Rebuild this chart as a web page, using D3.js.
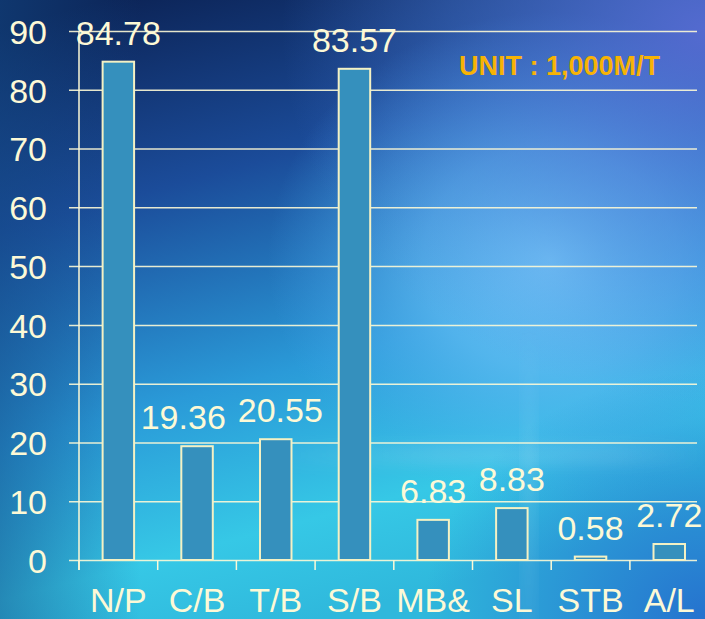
<!DOCTYPE html>
<html>
<head>
<meta charset="utf-8">
<script src="https://cdn.jsdelivr.net/npm/d3@7"></script>
<style>
  html, body { margin: 0; padding: 0; background: #0d2a5c; }
  svg { display: block; }
  text { font-family: "Liberation Sans", Arial, sans-serif; }
</style>
</head>
<body>
<div id="chart"></div>
<script>
var categories = ['N/P', 'C/B', 'T/B', 'S/B', 'MB&', 'SL', 'STB', 'A/L'];
var values = [84.78, 19.36, 20.55, 83.57, 6.83, 8.83, 0.58, 2.72];
var yTicks = [0, 10, 20, 30, 40, 50, 60, 70, 80, 90];
var unitLabel = 'UNIT : 1,000M/T';

var _width = 705, _height = 619;
var _left = 79, _right = 697, _top = 31, _bottom = 560;
var cream = '#fdf9d6';

var svg = d3.select('#chart').append('svg')
    .attr('width', _width)
    .attr('height', _height);

var defs = svg.append('defs');

function linear(id, x1, y1, x2, y2, stops) {
  var g = defs.append('linearGradient').attr('id', id)
      .attr('x1', x1).attr('y1', y1).attr('x2', x2).attr('y2', y2);
  stops.forEach(function(s) {
    g.append('stop').attr('offset', s[0]).attr('stop-color', s[1])
      .attr('stop-opacity', s[2] == null ? 1 : s[2]);
  });
}

function radial(id, cx, cy, r, stops) {
  var g = defs.append('radialGradient').attr('id', id)
      .attr('cx', cx).attr('cy', cy).attr('r', r);
  stops.forEach(function(s) {
    g.append('stop').attr('offset', s[0]).attr('stop-color', s[1])
      .attr('stop-opacity', s[2]);
  });
}

// background layers
linear('bgBase', 0.15, 0, 0.45, 1, [
  [0, '#0c2457'], [0.3, '#1b4c9a'], [0.62, '#2a9ad8'], [0.85, '#36c8e6'], [1, '#2fb8dc']
]);
radial('bgGlow', 0.78, 0.42, 0.4, [
  [0, '#74cbf9', 1], [0.45, '#62bcf4', 0.7], [1, '#4aa6ee', 0]
]);
radial('bgTopRight', 1.0, 0.05, 0.6, [
  [0, '#5a6ed6', 0.9], [0.6, '#4f7cd8', 0.4], [1, '#4f80dc', 0]
]);
radial('bgBottomRight', 1.0, 1.0, 0.4, [
  [0, '#2466cc', 0.85], [1, '#2466cc', 0]
]);
linear('bgLeft', 0, 0, 1, 0, [
  [0, '#134a86', 0.5], [0.2, '#134a86', 0]
]);
linear('streak', 0, 0, 1, 0, [
  [0, '#ffffff', 0], [0.4, '#ffffff', 0.1], [0.8, '#ffffff', 0.08], [1, '#ffffff', 0]
]);
linear('vstreak', 0, 0, 0, 1, [
  [0, '#ffffff', 0], [0.5, '#ffffff', 0.1], [1, '#ffffff', 0.04]
]);
defs.append('filter').attr('id', 'soft')
    .attr('x', '-20%').attr('y', '-100%').attr('width', '140%').attr('height', '300%')
  .append('feGaussianBlur').attr('stdDeviation', 6);

['bgBase', 'bgGlow', 'bgTopRight', 'bgBottomRight', 'bgLeft'].forEach(function(id) {
  svg.append('rect')
    .attr('width', _width).attr('height', _height)
    .attr('fill', 'url(#' + id + ')');
});
svg.append('rect')
  .attr('x', 260).attr('y', 444).attr('width', 445).attr('height', 22)
  .attr('fill', 'url(#streak)')
  .attr('filter', 'url(#soft)');
svg.append('rect')
  .attr('x', 522).attr('y', 330).attr('width', 14).attr('height', 300)
  .attr('fill', 'url(#vstreak)')
  .attr('filter', 'url(#soft)');

var x = d3.scaleBand()
    .domain(categories)
    .range([_left, _left + 8 * 78.7])
    .paddingInner(0.6)
    .paddingOuter(0.3);

var y = d3.scaleLinear()
    .domain([0, 90])
    .range([_bottom, _top]);

// y axis with gridlines
var yAxis = svg.append('g')
    .attr('transform', 'translate(' + _left + ',0)')
    .call(d3.axisLeft(y)
      .tickValues(yTicks)
      .tickSizeInner(-(_right - _left))
      .tickSizeOuter(0)
      .tickPadding(32));

yAxis.select('.domain')
    .attr('d', 'M0,' + _top + 'V' + (_bottom + 10))
    .attr('stroke', cream)
    .attr('stroke-width', 1.5);
yAxis.selectAll('.tick line')
    .attr('x1', -10)
    .attr('stroke', cream)
    .attr('stroke-opacity', 0.9)
    .attr('stroke-width', 1.5);
yAxis.selectAll('.tick text')
    .attr('fill', cream)
    .attr('font-size', 34)
    .attr('dy', '0.36em');

// x axis: category ticks at band boundaries
var step = x.step();
var bounds = categories.map(function(c) { return x(c) + x.bandwidth() / 2 - step / 2; });
bounds.push(bounds[bounds.length - 1] + step);

svg.append('g').selectAll('line')
  .data(bounds.filter(function(b) { return b <= _width; }))
  .enter().append('line')
    .attr('x1', function(d) { return d; })
    .attr('x2', function(d) { return d; })
    .attr('y1', _bottom)
    .attr('y2', _bottom + 10)
    .attr('stroke', cream)
    .attr('stroke-width', 1.5);

svg.append('g').selectAll('text')
  .data(categories)
  .enter().append('text')
    .attr('x', function(d) { return x(d) + x.bandwidth() / 2; })
    .attr('y', 612)
    .attr('text-anchor', 'middle')
    .attr('font-size', 34)
    .attr('fill', cream)
    .text(function(d) { return d; });

// bars
svg.append('g').selectAll('rect')
  .data(values)
  .enter().append('rect')
    .attr('x', function(d, i) { return x(categories[i]); })
    .attr('y', function(d) { return y(d); })
    .attr('width', x.bandwidth())
    .attr('height', function(d) { return _bottom - y(d); })
    .attr('fill', '#3590bd')
    .attr('stroke', '#f4f1c4')
    .attr('stroke-width', 2);

// value labels
var labels = svg.append('g').selectAll('text')
  .data(values)
  .enter().append('text')
    .attr('x', function(d, i) { return x(categories[i]) + x.bandwidth() / 2; })
    .attr('y', function(d) { return y(d) - 17; })
    .attr('text-anchor', 'middle')
    .attr('font-size', 34)
    .attr('fill', cream)
    .text(function(d) { return d.toFixed(2); });

// nudge neighbouring labels apart when they collide
var nodes = labels.nodes();
for (var i = 1; i < nodes.length; i++) {
  var a = nodes[i - 1].getBBox(), b = nodes[i].getBBox();
  var vOverlap = a.y < b.y + b.height && b.y < a.y + a.height;
  var need = (a.x + a.width + 12) - b.x;
  if (vOverlap && need > 0) {
    d3.select(nodes[i - 1]).attr('x', +nodes[i - 1].getAttribute('x') - need * 0.75);
    d3.select(nodes[i]).attr('x', +nodes[i].getAttribute('x') + need * 0.25);
  }
}

svg.append('text')
    .attr('x', 459)
    .attr('y', 75)
    .attr('font-size', 27)
    .attr('font-weight', 'bold')
    .attr('fill', '#f7b305')
    .text(unitLabel);
</script>
</body>
</html>
